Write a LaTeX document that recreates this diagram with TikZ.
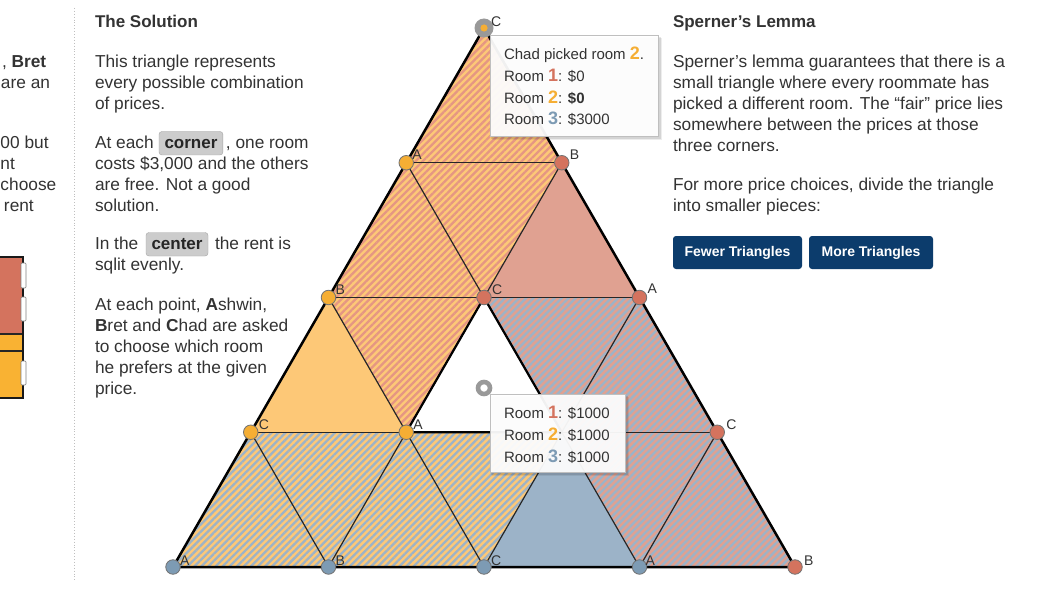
\documentclass[tikz,border=0pt]{standalone}
\usepackage{fontspec}
\setmainfont{Liberation Sans}
\usetikzlibrary{patterns.meta,calc}
\definecolor{txt}{HTML}{333333}
\definecolor{rA}{HTML}{D4735E}
\definecolor{rB}{HTML}{F5AE34}
\definecolor{rC}{HTML}{7D9BB4}
\definecolor{fO}{HTML}{FDC877}
\definecolor{fR}{HTML}{E0A191}
\definecolor{fB}{HTML}{9CB3C8}
\definecolor{sR}{HTML}{E59683}
\definecolor{navy}{HTML}{0C3C6C}
\definecolor{barR}{HTML}{D4735E}
\definecolor{barO}{HTML}{F9B233}
\begin{document}
\begin{tikzpicture}[x=1pt,y=-1pt,
  every node/.style={inner sep=0pt, outer sep=0pt, text=txt},
  body/.style={font=\fontsize{17.3}{20}\selectfont, anchor=base west},
  head/.style={font=\fontsize{17}{20}\selectfont\bfseries, anchor=base west},
  hlbox/.style={font=\fontsize{17}{20}\selectfont\bfseries, anchor=base west, fill=black!20, draw=black!35, rounded corners=3pt, inner xsep=5.5pt, inner ysep=4pt, text height=13pt, text depth=2.5pt, text=black!85},
  btn/.style={fill=navy, rounded corners=3pt, text=white, font=\fontsize{14}{17}\selectfont\bfseries, minimum height=33pt},
  hatchstyle/.style={pattern={Lines[angle=45,distance=5pt,line width=2.3pt]}},
  hOR/.style={fill=fO, postaction={hatchstyle, pattern color=sR}},
  hRB/.style={fill=fR, postaction={hatchstyle, pattern color=fB}},
  hOB/.style={fill=fO, postaction={hatchstyle, pattern color=fB}},
  edge/.style={draw=black!85, line width=1.2pt},
  dot/.style={circle, minimum size=14.5pt, draw=black!55, line width=0.8pt},
  lbl/.style={font=\fontsize{14}{16}\selectfont, anchor=west, text=black!80},
  tip/.style={fill=white, fill opacity=0.94, draw=black!25, line width=0.8pt},
  tiptext/.style={font=\fontsize{15}{18}\selectfont, anchor=base west}]
\useasboundingbox (0,0) rectangle (1050,591);
\fill[white] (0,0) rectangle (1050,591);

% ---------- grid points ----------
\coordinate (P0) at (484,28);
\coordinate (P1a) at (406.25,162.75);
\coordinate (P1b) at (561.75,162.75);
\coordinate (P2a) at (328.5,297.5);
\coordinate (P2b) at (484,297.5);
\coordinate (P2c) at (639.5,297.5);
\coordinate (P3a) at (250.75,432.25);
\coordinate (P3b) at (406.25,432.25);
\coordinate (P3c) at (561.75,432.25);
\coordinate (P3d) at (717.25,432.25);
\coordinate (P4a) at (173,567);
\coordinate (P4b) at (328.5,567);
\coordinate (P4c) at (484,567);
\coordinate (P4d) at (639.5,567);
\coordinate (P4e) at (795,567);

% ---------- fills ----------
\fill[hOR] (P0) -- (P1a) -- (P1b) -- cycle;
\fill[hOR] (P1a) -- (P2a) -- (P2b) -- cycle;
\fill[hOR] (P1a) -- (P1b) -- (P2b) -- cycle;
\fill[fR] (P1b) -- (P2b) -- (P2c) -- cycle;
\fill[fO] (P2a) -- (P3a) -- (P3b) -- cycle;
\fill[hOR] (P2a) -- (P2b) -- (P3b) -- cycle;
\fill[white] (P2b) -- (P3b) -- (P3c) -- cycle;
\fill[hRB] (P2b) -- (P2c) -- (P3c) -- cycle;
\fill[hRB] (P2c) -- (P3c) -- (P3d) -- cycle;
\fill[hOB] (P3a) -- (P4a) -- (P4b) -- cycle;
\fill[hOB] (P3a) -- (P3b) -- (P4b) -- cycle;
\fill[hOB] (P3b) -- (P4b) -- (P4c) -- cycle;
\fill[hOB] (P3b) -- (P3c) -- (P4c) -- cycle;
\fill[fB] (P3c) -- (P4c) -- (P4d) -- cycle;
\fill[hRB] (P3c) -- (P3d) -- (P4d) -- cycle;
\fill[hRB] (P3d) -- (P4d) -- (P4e) -- cycle;

% ---------- edges ----------
\draw[edge] (P1a) -- (P1b);
\draw[edge] (P2a) -- (P2c);
\draw[edge] (P3a) -- (P3d);
\draw[edge] (P4b) -- (P1b);
\draw[edge] (P4c) -- (P2c);
\draw[edge] (P4d) -- (P3d);
\draw[edge] (P4d) -- (P1a);
\draw[edge] (P4c) -- (P2a);
\draw[edge] (P4b) -- (P3a);
\draw[black, line width=2.2pt, line join=round] (P2b) -- (P3b) -- (P3c) -- cycle;
\draw[black, line width=2.5pt, line join=round] (P0) -- (P4a) -- (P4e) -- cycle;

% ---------- vertex dots and labels ----------
\node[dot, fill=rB] (dP1a) at (P1a) {};
\node[lbl] at ($(P1a)+(6,-8)$) {A};
\node[dot, fill=rA] (dP1b) at (P1b) {};
\node[lbl] at ($(P1b)+(8,-8)$) {B};
\node[dot, fill=rB] (dP2a) at (P2a) {};
\node[lbl] at ($(P2a)+(7,-8)$) {B};
\node[dot, fill=rA] (dP2b) at (P2b) {};
\node[lbl] at ($(P2b)+(8,-8)$) {C};
\node[dot, fill=rA] (dP2c) at (P2c) {};
\node[lbl] at ($(P2c)+(8,-9)$) {A};
\node[dot, fill=rB] (dP3a) at (P3a) {};
\node[lbl] at ($(P3a)+(8,-8)$) {C};
\node[dot, fill=rB] (dP3b) at (P3b) {};
\node[lbl] at ($(P3b)+(7,-8)$) {A};
\node[dot, fill=rA] (dP3d) at (P3d) {};
\node[lbl] at ($(P3d)+(9,-8)$) {C};
\node[dot, fill=rC] (dP4a) at (P4a) {};
\node[lbl] at ($(P4a)+(7,-6)$) {A};
\node[dot, fill=rC] (dP4b) at (P4b) {};
\node[lbl] at ($(P4b)+(7,-6)$) {B};
\node[dot, fill=rC] (dP4c) at (P4c) {};
\node[lbl] at ($(P4c)+(7,-6)$) {C};
\node[dot, fill=rC] (dP4d) at (P4d) {};
\node[lbl] at ($(P4d)+(6,-6)$) {A};
\node[dot, fill=rA] (dP4e) at (P4e) {};
\node[lbl] at ($(P4e)+(9,-6)$) {B};

% ---------- tooltip 1 ----------
\fill[black, opacity=0.10] (491,37) rectangle (661,139);
\fill[black, opacity=0.07] (492,38) rectangle (662,140);
\draw[tip] (490,35) rectangle (658,136);
\node[tiptext] (t1a) at (504,60) {Chad picked room {\fontsize{18}{18}\selectfont\bfseries\color{rB}2}.};
\node[tiptext] (t1b) at (504,82) {Room {\fontsize{18}{18}\selectfont\bfseries\color{rA}1}: \$0};
\node[tiptext] (t1c) at (504,103.5) {Room {\fontsize{18}{18}\selectfont\bfseries\color{rB}2}: \textbf{\$0}};
\node[tiptext] (t1d) at (504,125) {Room {\fontsize{18}{18}\selectfont\bfseries\color{rC}3}: \$3000};

% top selected marker
\fill[black!40] (P0) circle (9.5pt);
\fill[rB] (P0) circle (3.6pt);
\node[lbl] at (491,22) {C};

% ---------- center marker ----------
\coordinate (G) at (484,388);
\draw[black!40, line width=4.6pt, fill=white] (G) circle (6pt);

% ---------- tooltip 2 ----------
\fill[black, opacity=0.10] (491,396) rectangle (628,475);
\fill[black, opacity=0.07] (492,397) rectangle (629,476);
\draw[tip] (490,394) rectangle (625,472);
\node[tiptext] (t2a) at (504,418.5) {Room {\fontsize{18}{18}\selectfont\bfseries\color{rA}1}: \$1000};
\node[tiptext] (t2b) at (504,440.5) {Room {\fontsize{18}{18}\selectfont\bfseries\color{rB}2}: \$1000};
\node[tiptext] (t2c) at (504,462) {Room {\fontsize{18}{18}\selectfont\bfseries\color{rC}3}: \$1000};

% ---------- left clipped column ----------
\node[body] at (2,67.5) {, \textbf{Bret}};
\node[body] at (1,88.5) {are an};
\node[body] at (0.5,148.5) {00 but};
\node[body] at (0.5,169.5) {nt};
\node[body] at (0.5,190.5) {choose};
\node[body] at (4,211.5) {rent};
\fill[barR] (-5,257) rectangle (23,334);
\fill[barO] (-5,334) rectangle (23,398);
\draw[black!85, line width=1.2pt] (-5,334) -- (23,334);
\draw[black!85, line width=1.2pt] (-5,351) -- (23,351);
\draw[black!90, line width=1.6pt] (-5,257) -- (23,257) -- (23,398) -- (-5,398);
\draw[fill=white, draw=black!50, line width=0.7pt, rounded corners=1pt] (21,263) rectangle (26,288);
\draw[fill=white, draw=black!50, line width=0.7pt, rounded corners=1pt] (21,297) rectangle (26,321);
\draw[fill=white, draw=black!50, line width=0.7pt, rounded corners=1pt] (21,361) rectangle (26,385);

% separator
\draw[black!25, dotted, line width=0.9pt] (74,8) -- (74,581);

% ---------- middle column ----------
\node[head] at (95,27.5) {The Solution};
\node[body] at (95,67.5) {This triangle represents};
\node[body] at (95,88.5) {every possible combination};
\node[body] at (95,109.5) {of prices.};
\node[body] (l4) at (95,148.5) {At each};
\node[hlbox] (hc) at (159,148.5) {corner};
\node[body] at ($(hc.base east)+(3,0)$) {, one room};
\node[body] at (95,169.5) {costs \$3,000 and the others};
\node[body] at (95,190.5) {are free. Not a good};
\node[body] at (95,211.5) {solution.};
\node[body] (l8) at (95,249.5) {In the};
\node[hlbox] (hm) at (146,249.5) {center};
\node[body] at ($(hm.base east)+(7,0)$) {the rent is};
\node[body] at (95,270.5) {sqlit evenly.};
\node[body] at (95,310.5) {At each point, \textbf{A}shwin,};
\node[body] at (95,331.5) {\textbf{B}ret and \textbf{C}had are asked};
\node[body] at (95,352.5) {to choose which room};
\node[body] at (95,373.5) {he prefers at the given};
\node[body] at (95,394.5) {price.};

% ---------- right column ----------
\node[head] at (673,27.5) {Sperner's Lemma};
\node[body] at (673,67.5) {Sperner's lemma guarantees that there is a};
\node[body] at (673,88.5) {small triangle where every roommate has};
\node[body] at (673,109.5) {picked a different room. The “fair” price lies};
\node[body] at (673,130.5) {somewhere between the prices at those};
\node[body] at (673,151.5) {three corners.};
\node[body] at (673,190.5) {For more price choices, divide the triangle};
\node[body] at (673,211.5) {into smaller pieces:};
\node[btn, minimum width=129pt] (bf) at (737.5,252.5) {Fewer Triangles};
\node[btn, minimum width=124pt] (bm) at (871,252.5) {More Triangles};
\end{tikzpicture}
\end{document}
